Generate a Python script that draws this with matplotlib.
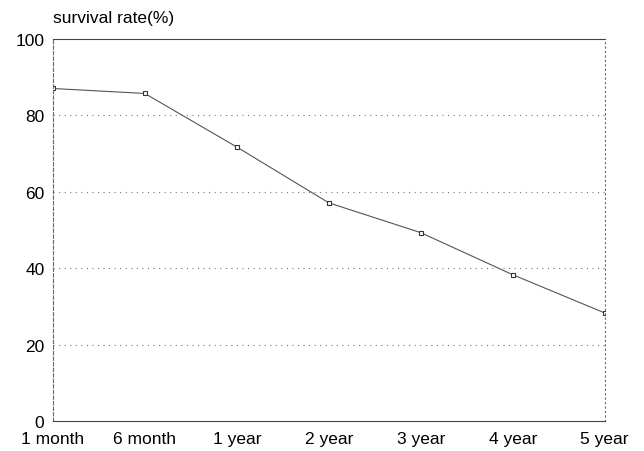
import matplotlib.pyplot as plt

periods = ['1 month', '6 month', '1 year', '2 year', '3 year', '4 year', '5 year']
survival = [87.0, 85.7, 71.7, 57.1, 49.3, 38.3, 28.3]
yticks = [0, 20, 40, 60, 80, 100]

plt.rcParams['font.family'] = ['Liberation Sans', 'DejaVu Sans']

fig = plt.figure(figsize=(6.44, 4.52), dpi=100)
ax = fig.add_axes([0.082, 0.066, 0.857, 0.846])

x = list(range(len(periods)))
ax.plot(x, survival, color='#555555', lw=0.8, marker='s', ms=3.5,
        mfc='white', mec='#333333', mew=0.8)

ax.set_xlim(0, len(periods) - 1)
ax.set_ylim(0, 100)
ax.set_xticks(x)
ax.set_xticklabels(periods, fontsize=12.5)
ax.set_yticks(yticks)
ax.set_yticklabels([str(v) for v in yticks], fontsize=12.5)
ax.tick_params(axis='x', length=0, pad=7)
ax.tick_params(axis='y', length=0, pad=6)

for v in yticks[1:-1]:
    ax.axhline(v, color='#777777', lw=0.8, ls=(0, (1, 4)))

for s in ['bottom', 'top']:
    ax.spines[s].set_linewidth(0.8)
    ax.spines[s].set_color('#444444')
ax.spines['left'].set_linestyle((0, (3, 2)))
ax.spines['left'].set_color('#666666')
ax.spines['left'].set_linewidth(0.8)
ax.spines['right'].set_linestyle((0, (1, 3)))
ax.spines['right'].set_color('#666666')
ax.spines['right'].set_linewidth(0.8)

fig.text(0.082, 0.958, 'survival rate(%)', fontsize=12.5, ha='left', va='center')

fig.savefig('out.png', dpi=100)
